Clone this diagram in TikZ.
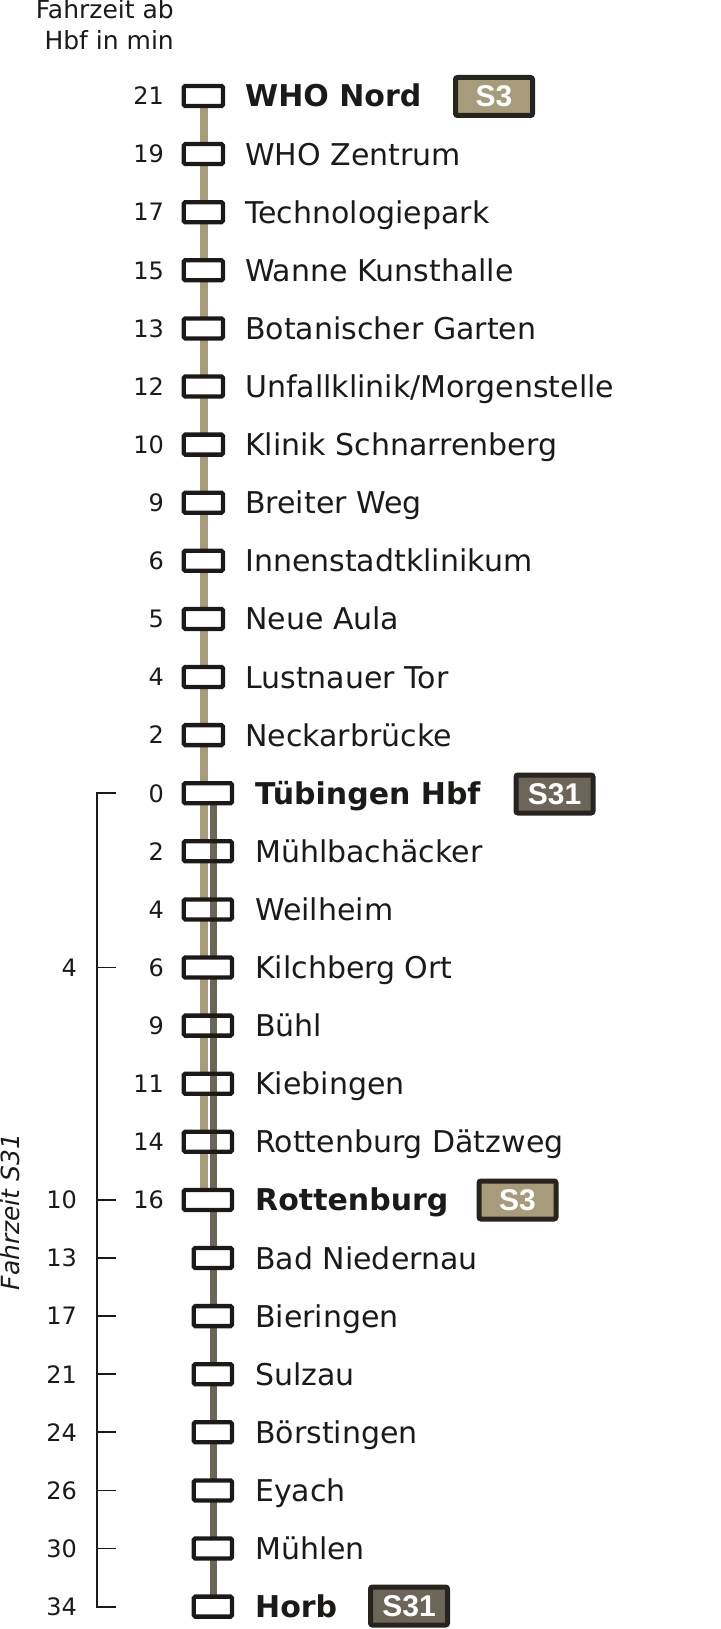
\documentclass[tikz,border=0pt]{standalone}
\usepackage{fontspec}
\setmainfont{DejaVu Sans}
\newfontfamily\badgefont{Liberation Sans}
\definecolor{tanc}{HTML}{A89B7C}
\definecolor{darkc}{HTML}{6B6658}
\definecolor{inkc}{HTML}{1C1A18}
\definecolor{rimc}{HTML}{27231F}
\begin{document}
\begin{tikzpicture}[x=1pt,y=-1pt,
  num/.style={font=\fontsize{24}{24}\selectfont, anchor=base east, inner sep=0, text=inkc},
  stname/.style={font=\fontsize{30}{30}\selectfont, anchor=base west, inner sep=0, text=inkc},
  stbold/.style={font=\fontsize{30}{30}\selectfont\bfseries, anchor=base west, inner sep=0, text=inkc},
  boxbase/.style={line width=4.3pt, rounded corners=1.5pt, inner sep=0, minimum height=20pt},
  upbox/.style={boxbase, draw=inkc, fill=white, minimum width=39.3pt},
  midbox/.style={boxbase, draw=inkc, fill=white, minimum width=48.3pt},
  midfill/.style={boxbase, fill=white, minimum width=48.3pt},
  midrim/.style={boxbase, draw=inkc, minimum width=48.3pt},
  lowbox/.style={boxbase, draw=inkc, fill=white, minimum width=38.3pt},
  tanline/.style={draw=tanc, line width=7.5pt},
  darkline/.style={draw=darkc, line width=7pt},
  badge/.style={draw=rimc, line width=5pt, rounded corners=2pt, minimum width=77pt, minimum height=38pt, inner sep=0, text=white, font=\badgefont\bfseries\fontsize{30}{30}\selectfont},
  bracket/.style={draw=inkc, line width=1.8pt}]
\useasboundingbox (0,0) rectangle (720,1629);

% header
\node[num, font=\fontsize{25}{25}\selectfont] (h1) at (174,19) {Fahrzeit ab};
\node[num, font=\fontsize{25}{25}\selectfont] (h2) at (174,50) {Hbf in min};

% line anchor coordinates
\coordinate (tan0) at (204,96);
\coordinate (tan19) at (204,{96+58.1*19});
\coordinate (dk12) at (213.5,{96+58.1*12});
\coordinate (dk26) at (213.5,{96+58.1*26});

% S3 line
\draw[tanline] (tan0) -- (tan19);

% white fill of boxes where S31 passes without stopping
\foreach \i in {13,14,16,17,18} {
  \node[midfill] (f\i) at (207.85,{96+58.1*\i}) {};
}

% S31 line
\draw[darkline] (dk12) -- (dk26);

% rims of those boxes
\foreach \i in {13,14,16,17,18} {
  \node[midrim] (b\i) at (207.85,{96+58.1*\i}) {};
}

% upper boxes
\foreach \i in {0,...,11} {
  \node[upbox] (b\i) at (203.35,{96+58.1*\i}) {};
}
% shared stop boxes
\foreach \i in {12,15,19} {
  \node[midbox] (b\i) at (207.85,{96+58.1*\i}) {};
}
% lower boxes
\foreach \i in {20,...,26} {
  \node[lowbox] (b\i) at (212.85,{96+58.1*\i}) {};
}

% minutes from Hbf
\foreach \i/\n in {0/21,1/19,2/17,3/15,4/13,5/12,6/10,7/9,8/6,9/5,10/4,11/2,12/0,13/2,14/4,15/6,16/9,17/11,18/14,19/16} {
  \node[num] (n\i) at (164,{96+58.1*\i+8.8}) {\n};
}

% station names
\node[stbold] (t0) at (245,{96+11}) {WHO Nord};
\foreach \i/\s in {1/WHO Zentrum,2/Technologiepark,3/Wanne Kunsthalle,4/Botanischer Garten,6/Klinik Schnarrenberg,7/Breiter Weg,8/Innenstadtklinikum,9/Neue Aula,10/Lustnauer Tor,11/Neckarbrücke} {
  \node[stname] (t\i) at (245,{96+58.1*\i+11}) {\s};
}
\node[stname] (t5) at (245,{96+58.1*5+11}) {Unfallklinik/Morgenstelle};
\node[stbold] (t12) at (255,{96+58.1*12+11}) {Tübingen Hbf};
\foreach \i/\s in {13/Mühlbachäcker,14/Weilheim,15/Kilchberg Ort,16/Bühl,17/Kiebingen,18/Rottenburg Dätzweg,20/Bad Niedernau,21/Bieringen,22/Sulzau,23/Börstingen,24/Eyach,25/Mühlen} {
  \node[stname] (t\i) at (255,{96+58.1*\i+11}) {\s};
}
\node[stbold] (t19) at (255,{96+58.1*19+11}) {Rottenburg};
\node[stbold] (t26) at (255,{96+58.1*26+11}) {Horb};

% line badges
\node[badge, fill=tanc] (g0) at (494,96.5) {S3};
\node[badge, fill=darkc] (g12) at (554.5,794) {S31};
\node[badge, fill=tanc] (g19) at (517.5,1200) {S3};
\node[badge, fill=darkc] (g26) at (409,1606) {S31};

% S31 travel time bracket
\coordinate (kt) at (116,{96+58.1*12});
\coordinate (ct) at (97,{96+58.1*12});
\coordinate (cb) at (97,{96+58.1*26});
\coordinate (kb) at (116,{96+58.1*26});
\draw[bracket] (kt) -- (ct) -- (cb) -- (kb);
\foreach \i/\n in {15/4,19/10,20/13,21/17,22/21,23/24,24/26,25/30,26/34} {
  \coordinate (c\i) at (97,{96+58.1*\i});
  \coordinate (k\i) at (116,{96+58.1*\i});
  \draw[bracket] (c\i) -- (k\i);
  \node[num] (m\i) at (77,{96+58.1*\i+8.8}) {\n};
}
\node[font=\fontsize{25}{25}\selectfont\itshape, text=inkc, rotate=90, anchor=base, inner sep=0] (fz) at (19.5,1212) {Fahrzeit S31};
\end{tikzpicture}
\end{document}
